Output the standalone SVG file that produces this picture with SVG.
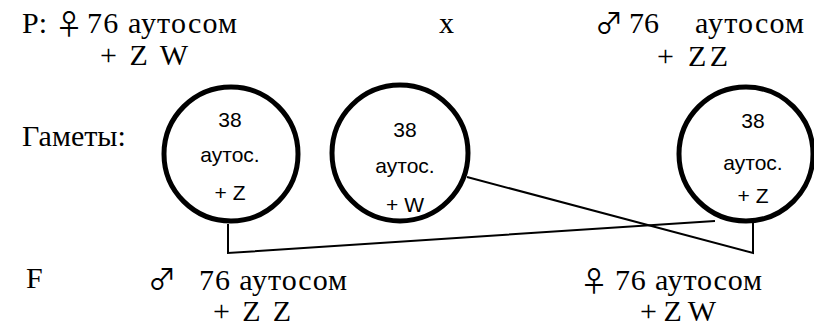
<svg xmlns="http://www.w3.org/2000/svg" width="814" height="329" viewBox="0 0 814 329">
<style>
.t{font-family:"Liberation Serif","Times New Roman",serif;font-size:30px;fill:#000}
.s{font-family:"Noto Sans CJK JP","DejaVu Sans",sans-serif;font-size:28px;fill:#000}
.c{font-family:"Liberation Sans",Arial,sans-serif;font-size:21px;fill:#000;text-anchor:middle}
.g{fill:none;stroke:#000;stroke-width:5}
.l{fill:none;stroke:#000;stroke-width:2}
</style>
<rect width="814" height="329" fill="#fff"/>
<g id="parents">
<text class="t" x="22" y="33">P:</text>
<text class="s" x="55" y="35">♀</text>
<text class="t" x="87" y="33" textLength="150">76 аутосом</text>
<text class="t" x="100" y="65" textLength="88">+ Z  W</text>
<text class="t" x="439" y="33">x</text>
<text class="s" x="595" y="34">♂</text>
<text class="t" x="629" y="33">76</text>
<text class="t" x="695" y="33" textLength="109">аутосом</text>
<text class="t" x="657" y="66" textLength="71">+ ZZ</text>
</g>
<text class="t" x="22" y="146" id="gamety">Гаметы:</text>
<g id="gamete1">
<circle class="g" cx="231" cy="154" r="67"/>
<text class="c" x="230" y="127">38</text>
<text class="c" x="230" y="162">аутос.</text>
<text class="c" x="230" y="200">+ Z</text>
</g>
<g id="gamete2">
<circle class="g" cx="400" cy="153" r="68"/>
<text class="c" x="405" y="137">38</text>
<text class="c" x="405" y="173">аутос.</text>
<text class="c" x="405" y="212">+ W</text>
</g>
<g id="gamete3">
<circle class="g" cx="746" cy="154" r="67"/>
<text class="c" x="753" y="128">38</text>
<text class="c" x="753" y="170">аутос.</text>
<text class="c" x="753" y="203">+ Z</text>
</g>
<g id="connectors">
<path class="l" d="M228 224 V253 L715 221"/>
<path class="l" d="M467 177 L753 253 V222"/>
</g>
<g id="offspring">
<text class="t" x="26" y="288">F</text>
<text class="s" x="148" y="290">♂</text>
<text class="t" x="199" y="290" textLength="148">76 аутосом</text>
<text class="t" x="213" y="321" textLength="78">+ Z Z</text>
<text class="s" x="580" y="292">♀</text>
<text class="t" x="615" y="290" textLength="147">76 аутосом</text>
<text class="t" x="640" y="321" textLength="76">+ Z W</text>
</g>
</svg>
